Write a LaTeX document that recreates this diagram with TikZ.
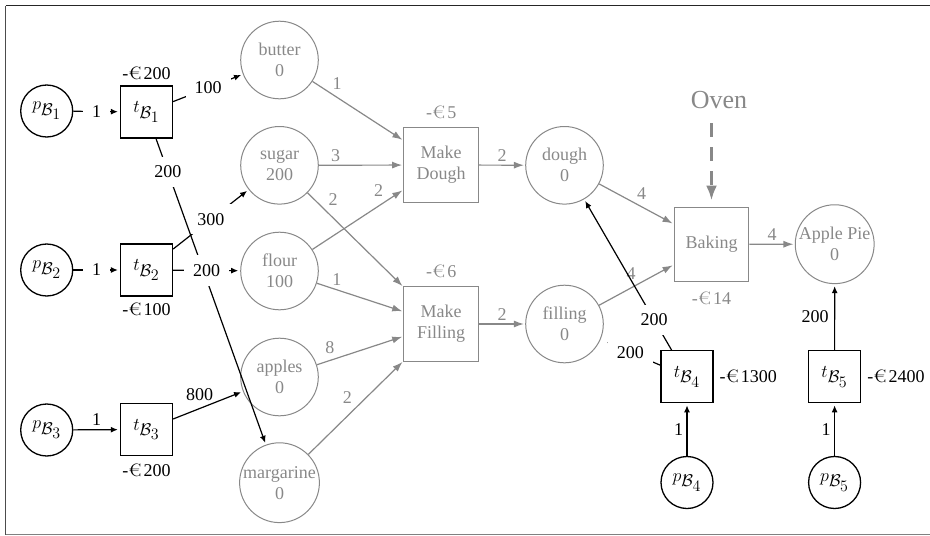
\documentclass[tikz,border=0pt]{standalone}
\usepackage{fix-cm}
\usepackage{graphicx}
\usepackage{fontspec}
\newfontfamily\eurofont{Latin Modern Roman}
\setmainfont{Liberation Serif}
\usetikzlibrary{arrows.meta}
\definecolor{pngray}{RGB}{136,136,136}
% wide euro sign followed by a thin gap
\newcommand\EuroMark{{\eurofont\scalebox{1.25}[1]{€}}\hspace{2pt}}
% subscripts kept nearly at full size
\DeclareMathSizes{18}{18}{17}{16}

\begin{document}
\begin{tikzpicture}[x=1pt,y=-1pt,
  every node/.style={font=\fontsize{18}{21}\selectfont},
  bplace/.style={circle,draw,line width=1.3pt,minimum size=52pt,inner sep=0pt},
  btrans/.style={rectangle,draw,line width=1.3pt,minimum size=52pt,inner sep=0pt},
  gplace/.style={circle,draw=pngray,line width=1pt,minimum size=77.6pt,inner sep=0pt,text=pngray,align=center},
  gtrans/.style={rectangle,draw=pngray,line width=1pt,minimum size=74.5pt,inner sep=0pt,text=pngray,align=center},
  barc/.style={draw,line width=1.2pt,-{Latex[length=7pt,width=6pt]},shorten >=2pt},
  garc/.style={draw=pngray,line width=1.2pt,-{Latex[length=10pt,width=7pt]},shorten >=1.3pt},
  blab/.style={fill=white,inner sep=9pt},
  glab/.style={text=pngray},
  ovenarc/.style={draw=pngray,line width=3.3pt,dash pattern=on 14pt off 10pt,-{Latex[length=15pt,width=11pt]},shorten >=6pt}
]
\useasboundingbox (0,0) rectangle (930,536);

% frame
\draw[line width=1pt,black!85] (930,5.5) -- (5.5,5.5);
\draw[line width=1pt,black!70] (5.5,5.5) -- (5.5,534.5);
\draw[line width=1pt,gray] (5.5,534.5) -- (930,534.5);

% buying places and transitions
\node[bplace] (pB1) at (46.7,111) {$p_{\mathcal{B}_1}$};
\node[btrans,label={[label distance=2pt]above:-\EuroMark200}] (tB1) at (146.5,112) {$t_{\mathcal{B}_1}$};
\node[bplace] (pB2) at (46.7,270) {$p_{\mathcal{B}_2}$};
\node[btrans,label={[label distance=3pt]below:-\EuroMark100}] (tB2) at (146.5,270) {$t_{\mathcal{B}_2}$};
\node[bplace] (pB3) at (46.7,430) {$p_{\mathcal{B}_3}$};
\node[btrans,label={[label distance=4pt]below:-\EuroMark200}] (tB3) at (146.5,429.5) {$t_{\mathcal{B}_3}$};
\node[btrans,label={[label distance=2.4pt]right:-\EuroMark1300}] (tB4) at (687,376.7) {$t_{\mathcal{B}_4}$};
\node[bplace] (pB4) at (687,482.5) {$p_{\mathcal{B}_4}$};
\node[btrans,label={[label distance=2.6pt]right:-\EuroMark2400}] (tB5) at (834.6,376.7) {$t_{\mathcal{B}_5}$};
\node[bplace] (pB5) at (834.6,482.5) {$p_{\mathcal{B}_5}$};

% ingredient and product places
\node[gplace] (butter) at (279.5,60) {butter\\0};
\node[gplace] (sugar) at (279.5,165.3) {sugar\\200};
\node[gplace] (flour) at (279.5,271) {flour\\100};
\node[gplace] (apples) at (279.5,377) {apples\\0};
\node[gplace] (margarine) at (279.5,482.7) {margarine\\0};
\node[gplace] (dough) at (564.5,165.3) {dough\\0};
\node[gplace] (filling) at (564.5,324) {filling\\0};
\node[gplace] (applepie) at (834.7,244.2) {Apple Pie\\0};

% production transitions
\node[gtrans,label={[label distance=5pt,text=pngray]above:-\EuroMark5}] (mdough) at (441.2,165) {Make\\Dough};
\node[gtrans,label={[label distance=5pt,text=pngray]above:-\EuroMark6}] (mfill) at (441.2,324) {Make\\Filling};
\node[gtrans,label={[label distance=6pt,text=pngray]below:-\EuroMark14}] (baking) at (711.5,244.3) {Baking};

% oven resource
\node[text=pngray,font=\fontsize{26}{30}\selectfont] (oven) at (719,100) {Oven};
\coordinate (ovenstart) at (711.5,123);
\draw[ovenarc] (ovenstart) -- (baking);

% production arcs
\draw[garc] (butter) -- node[glab,above=4pt,pos=0.27]{1} (mdough);
\draw[garc] (sugar) -- node[glab,above,pos=0.2]{3} (mdough);
\draw[garc] (sugar) -- node[glab,above right,pos=0.18]{2} (mfill);
\draw[garc] (flour) -- node[glab,above left,pos=0.82]{2} (mdough);
\draw[garc] (flour) -- node[glab,above,pos=0.23]{1} (mfill);
\draw[garc] (apples) -- node[glab,above=3pt,pos=0.15]{8} (mfill);
\draw[garc] (margarine) -- node[glab,above left]{2} (mfill);
\draw[garc] (mdough) -- node[glab,above]{2} (dough);
\draw[garc] (mfill) -- node[glab,above]{2} (filling);
\draw[garc] (dough) -- node[glab,above=3pt,pos=0.57]{4} (baking);
\draw[garc] (filling) -- node[glab,above=4pt,pos=0.43]{4} (baking);
\draw[garc] (baking) -- node[glab,above]{4} (applepie);

% buying arcs
\draw[barc] (pB1) -- node[blab]{1} (tB1);
\draw[barc] (tB1) -- node[blab]{100} (butter);
\draw[barc] (pB2) -- node[blab]{1} (tB2);
\draw[barc] (tB2) -- node[blab]{300} (sugar);
\draw[barc] (tB1) -- node[blab,pos=0.108]{200} (margarine);
\draw[barc] (tB2) -- node[blab]{200} (flour);
\draw[barc] (pB3) -- node[above]{1} (tB3);
\draw[barc] (tB3) -- node[above=4pt,pos=0.38]{800} (apples);
\draw[barc] (tB4) -- node[blab,pos=0.2]{200} (dough);
\draw[barc,shorten >=7pt] (tB4) -- node[blab]{200} (filling);
\draw[barc] (pB4) -- node[left]{1} (tB4);
\draw[barc] (pB5) -- node[left]{1} (tB5);
\draw[barc] (tB5) -- node[left=2pt]{200} (applepie);
\end{tikzpicture}
\end{document}
